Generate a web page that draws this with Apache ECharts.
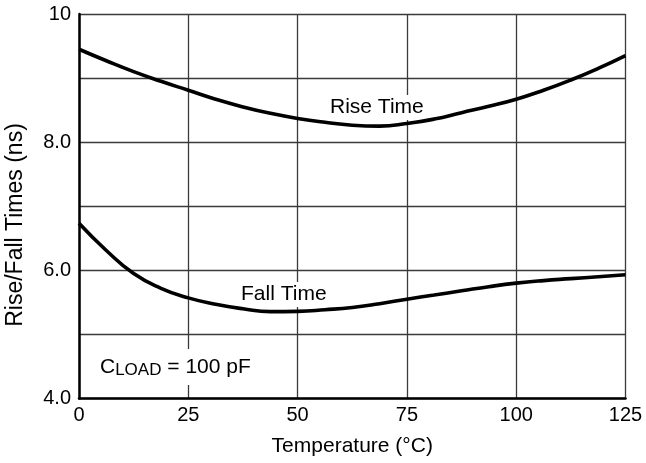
<!DOCTYPE html>
<html>
<head>
<meta charset="utf-8">
<script src="https://cdn.jsdelivr.net/npm/echarts@6/dist/echarts.min.js"></script>
<style>
  html, body { margin: 0; padding: 0; background: #fff; }
  #chart { width: 646px; height: 463px; }
</style>
</head>
<body>
<div id="chart"></div>
<script>
// Temperature sweep (°C)
const temperatures = [0, 6.25, 12.5, 18.75, 25, 31.25, 37.5, 43.75, 50, 56.25, 62.5,
                      68.75, 75, 81.25, 87.5, 93.75, 100, 106.25, 112.5, 118.75, 125];
// Rise time (ns) at each temperature
const riseTime = [9.45, 9.27, 9.10, 8.95, 8.81, 8.67, 8.55, 8.45, 8.37, 8.31, 8.265,
                  8.25, 8.29, 8.36, 8.46, 8.56, 8.67, 8.81, 8.97, 9.15, 9.35];
// Fall time (ns) at each temperature
const fallTime = [6.735, 6.31, 5.95, 5.72, 5.57, 5.47, 5.40, 5.355, 5.36, 5.385, 5.42,
                  5.48, 5.55, 5.615, 5.68, 5.745, 5.80, 5.84, 5.87, 5.90, 5.93];

const xTicks = [0, 25, 50, 75, 100, 125];
const yTickLabels = { 4: '4.0', 6: '6.0', 8: '8.0', 10: '10' };

const FONT = 'Liberation Sans, Arial, Helvetica, sans-serif';

const chart = echarts.init(document.getElementById('chart'), null, { renderer: 'canvas' });

const pairs = (ys) => temperatures.map((t, i) => [t, ys[i]]);

chart.setOption({
  animation: false,
  backgroundColor: '#fff',
  grid: { left: 79, top: 14, right: 20.5, bottom: 64.5, containLabel: false },
  xAxis: {
    type: 'value',
    min: 0,
    max: 125,
    interval: 25,
    name: 'Temperature (°C)',
    nameLocation: 'middle',
    nameGap: 37,
    nameTextStyle: { fontFamily: FONT, fontSize: 21, color: '#000' },
    axisLine: { show: true, onZero: false, lineStyle: { color: '#000', width: 2.5 } },
    axisTick: { show: false },
    axisLabel: {
      margin: 7,
      fontFamily: FONT, fontSize: 20, color: '#000',
      formatter: (v) => (xTicks.indexOf(v) >= 0 ? String(v) : '')
    },
    splitLine: { show: true, lineStyle: { color: '#3a3a3a', width: 1.3 } }
  },
  yAxis: {
    type: 'value',
    min: 4,
    max: 10,
    interval: 1,
    axisLine: { show: true, onZero: false, lineStyle: { color: '#000', width: 2.5 } },
    axisTick: { show: false },
    axisLabel: {
      margin: 8,
      fontFamily: FONT, fontSize: 20, color: '#000',
      formatter: (v) => yTickLabels[v] || ''
    },
    splitLine: { show: true, lineStyle: { color: '#3a3a3a', width: 1.3 } }
  },
  series: [
    {
      name: 'Rise Time',
      type: 'line',
      data: pairs(riseTime),
      smooth: 0.5,
      showSymbol: false,
      lineStyle: { color: '#000', width: 3.6 },
      z: 3
    },
    {
      name: 'Fall Time',
      type: 'line',
      data: pairs(fallTime),
      smooth: 0.5,
      showSymbol: false,
      lineStyle: { color: '#000', width: 3.6 },
      z: 3
    }
  ],
  graphic: [
    {
      type: 'text',
      x: 16, y: 225,
      rotation: Math.PI / 2,
      style: {
        text: 'Rise/Fall Times (ns)',
        font: '23px ' + FONT,
        fill: '#000',
        align: 'center',
        verticalAlign: 'middle'
      }
    },
    {
      type: 'text',
      x: 327, y: 107.5,
      z: 2,
      style: {
        text: 'Rise Time',
        font: '21px ' + FONT,
        fill: '#000',
        align: 'left',
        verticalAlign: 'middle',
        backgroundColor: '#fff',
        padding: [2, 3, 2, 3]
      }
    },
    {
      type: 'text',
      x: 238, y: 294.5,
      z: 2,
      style: {
        text: 'Fall Time',
        font: '21px ' + FONT,
        fill: '#000',
        align: 'left',
        verticalAlign: 'middle',
        backgroundColor: '#fff',
        padding: [2, 3, 2, 3]
      }
    },
    {
      type: 'text',
      x: 96, y: 367,
      z: 2,
      style: {
        text: '{a|C}{b|LOAD}{a| = 100 pF}',
        fill: '#000',
        align: 'left',
        verticalAlign: 'middle',
        backgroundColor: '#fff',
        padding: [6, 4, 6, 4],
        rich: {
          a: { fontFamily: FONT, fontSize: 21, lineHeight: 24, fill: '#000' },
          b: { fontFamily: FONT, fontSize: 17, lineHeight: 14, verticalAlign: 'bottom', fill: '#000' }
        }
      }
    }
  ]
});
</script>
</body>
</html>
